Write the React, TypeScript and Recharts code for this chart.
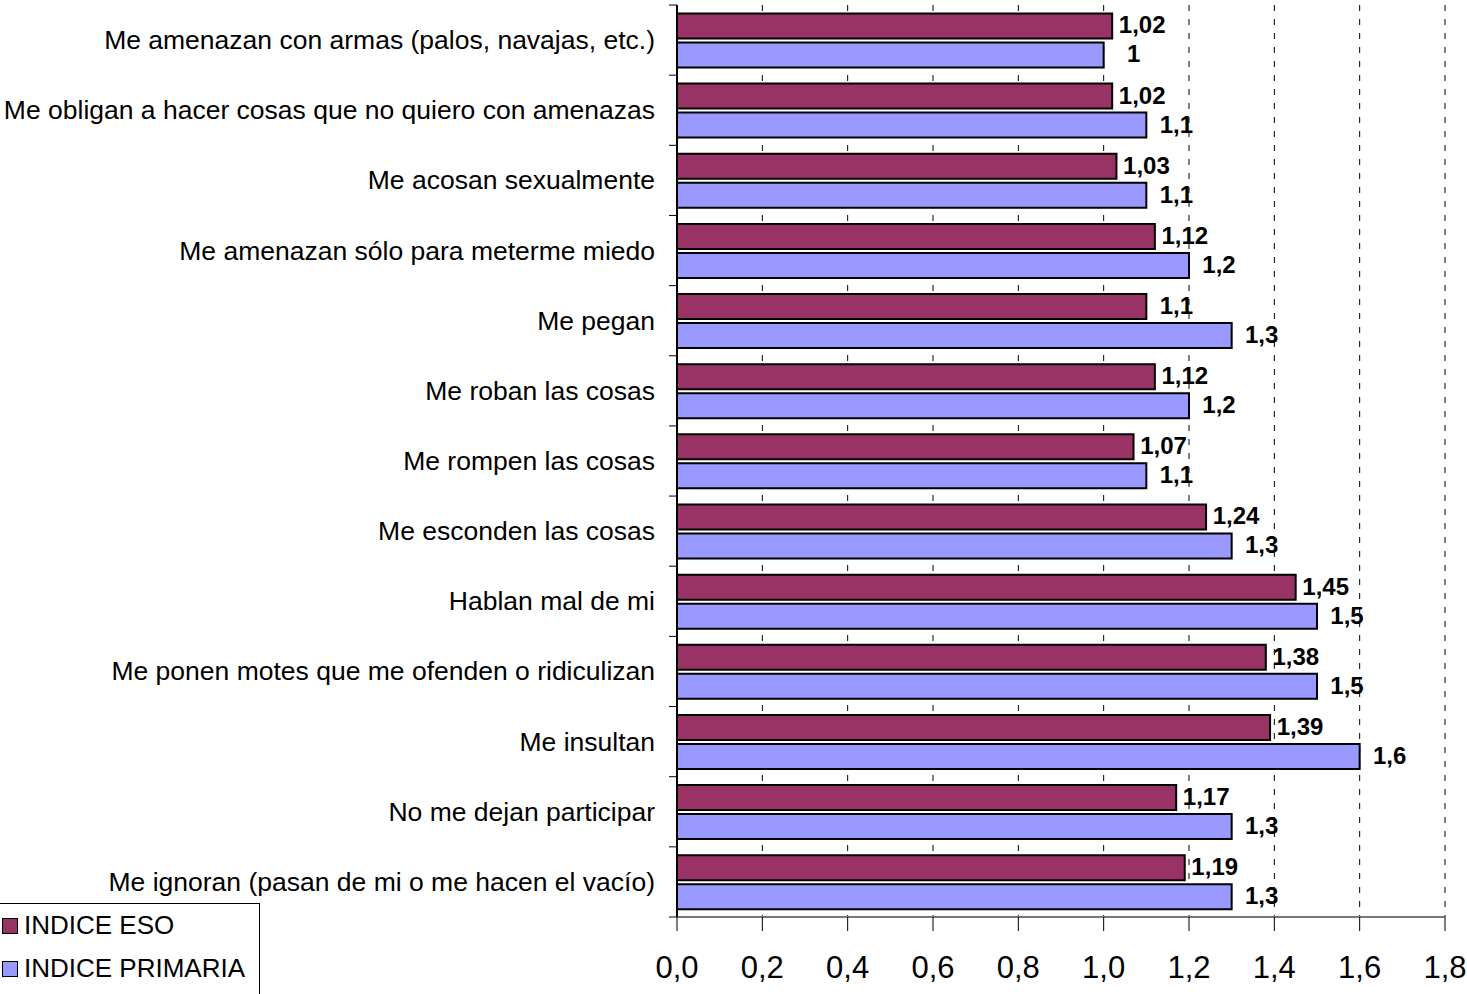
import React from "react";
import {
  BarChart,
  Bar,
  XAxis,
  YAxis,
  CartesianGrid,
  LabelList,
} from "recharts";

const categories = [
  "Me amenazan con armas (palos, navajas, etc.)",
  "Me obligan a hacer cosas que no quiero con amenazas",
  "Me acosan sexualmente",
  "Me amenazan sólo para meterme miedo",
  "Me pegan",
  "Me roban las cosas",
  "Me rompen las cosas",
  "Me esconden las cosas",
  "Hablan mal de mi",
  "Me ponen motes que me ofenden o ridiculizan",
  "Me insultan",
  "No me dejan participar",
  "Me ignoran (pasan de mi o me hacen el vacío)",
];

const esoValues = [1.02, 1.02, 1.03, 1.12, 1.1, 1.12, 1.07, 1.24, 1.45, 1.38, 1.39, 1.17, 1.19];
const primariaValues = [1, 1.1, 1.1, 1.2, 1.3, 1.2, 1.1, 1.3, 1.5, 1.5, 1.6, 1.3, 1.3];

const xTicks = [0, 0.2, 0.4, 0.6, 0.8, 1.0, 1.2, 1.4, 1.6, 1.8];

const SERIES = [
  { key: "eso", name: "INDICE ESO", color: "#993366" },
  { key: "primaria", name: "INDICE PRIMARIA", color: "#9999FF" },
];

const data = categories.map((name, i) => ({
  name,
  eso: esoValues[i],
  primaria: primariaValues[i],
}));

const W = 1467;
const H = 994;
const MARGIN = { top: 5, right: 22, bottom: 0, left: 0 };
const X_AXIS_H = 77;
const Y_AXIS_W = 677;
const PLOT_H = H - MARGIN.top - X_AXIS_H;
const FONT = "'Liberation Sans', Arial, sans-serif";

const commaNum = (v: number) => String(v).replace(".", ",");

const CategoryTick = ({ x, y, payload, index }: any) => {
  const band = PLOT_H / categories.length;
  const axisX = x + 22;
  return (
    <g>
      <text
        x={x}
        y={y}
        textAnchor="end"
        dominantBaseline="central"
        fontSize={26.5}
        fontFamily={FONT}
        fill="#000"
      >
        {payload.value}
      </text>
      {index === 0 && (
        <line x1={axisX - 8} x2={axisX} y1={y - band / 2} y2={y - band / 2} stroke="#000" />
      )}
      <line x1={axisX - 8} x2={axisX} y1={y + band / 2} y2={y + band / 2} stroke="#000" />
    </g>
  );
};

const ValueLabel = ({ x, y, width, height, value }: any) => (
  <text
    x={x + width + 30}
    y={y + height / 2 - 1}
    textAnchor="middle"
    dominantBaseline="central"
    fontSize={24}
    fontWeight="bold"
    fontFamily={FONT}
    fill="#000"
  >
    {commaNum(value)}
  </text>
);

const LegendBox = () => (
  <div
    style={{
      position: "absolute",
      left: -2,
      top: 903,
      border: "1px solid #000",
      background: "#fff",
      width: 262,
      height: 100,
      boxSizing: "border-box",
      fontFamily: FONT,
      fontSize: 26,
    }}
  >
    {SERIES.map((s) => (
      <div
        key={s.key}
        style={{ display: "flex", alignItems: "center", height: 43 }}
      >
        <span
          style={{
            display: "inline-block",
            width: 14,
            height: 14,
            background: s.color,
            border: "1.5px solid #000",
            marginLeft: 3,
            marginRight: 6,
          }}
        />
        <span style={{ color: "#000" }}>{s.name}</span>
      </div>
    ))}
  </div>
);

export default function App() {
  return (
    <div style={{ position: "absolute", left: 0, top: 0, width: W, height: H, background: "#fff", overflow: "hidden" }}>
      <BarChart
        width={W}
        height={H}
        data={data}
        layout="vertical"
        margin={MARGIN}
        barCategoryGap="12%"
        barGap={4}
      >
        <CartesianGrid
          horizontal={false}
          vertical={true}
          stroke="#000"
          strokeDasharray="6 8"
        />
        <XAxis
          type="number"
          domain={[0, 1.8]}
          ticks={xTicks}
          interval={0}
          height={X_AXIS_H}
          tickFormatter={(v: number) => v.toFixed(1).replace(".", ",")}
          tick={{ fill: "#000", fontSize: 31, fontFamily: FONT }}
          tickSize={14}
          tickMargin={25}
          axisLine={{ stroke: "#777", strokeWidth: 2 }}
          tickLine={{ stroke: "#000" }}
        />
        <YAxis
          type="category"
          dataKey="name"
          width={Y_AXIS_W}
          tickSize={0}
          tickMargin={22}
          tickLine={false}
          axisLine={{ stroke: "#000", strokeWidth: 2 }}
          tick={<CategoryTick />}
          interval={0}
        />
        {SERIES.map((s) => (
          <Bar
            key={s.key}
            dataKey={s.key}
            name={s.name}
            fill={s.color}
            stroke="#000"
            strokeWidth={2}
            isAnimationActive={false}
          >
            <LabelList dataKey={s.key} content={<ValueLabel />} />
          </Bar>
        ))}
      </BarChart>
      <LegendBox />
    </div>
  );
}
